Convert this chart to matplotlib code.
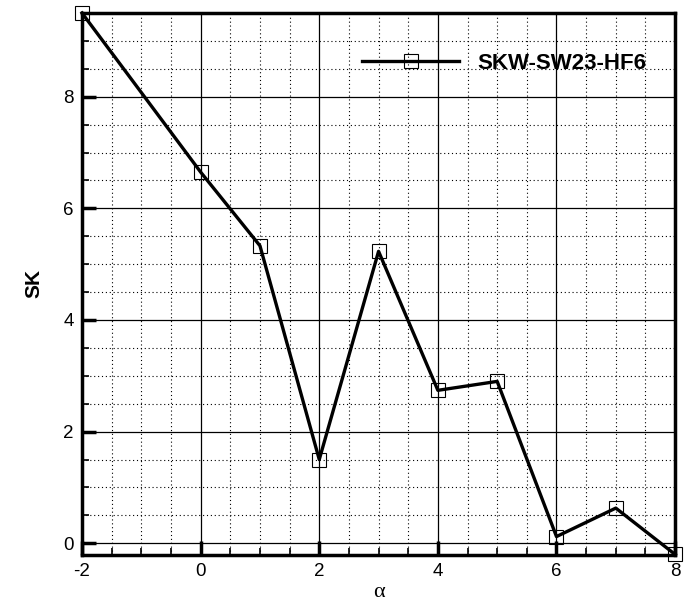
import matplotlib
matplotlib.use("Agg")
import matplotlib.pyplot as plt
from matplotlib.ticker import MultipleLocator

alpha = [-2, 0, 1, 2, 3, 4, 5, 6, 7, 8]
sk = [9.5, 6.65, 5.33, 1.5, 5.23, 2.74, 2.9, 0.12, 0.63, -0.2]
series_name = "SKW-SW23-HF6"

plt.rcParams["font.family"] = ["Liberation Sans", "DejaVu Sans"]
plt.rcParams["axes.unicode_minus"] = False

fig = plt.figure(figsize=(6.91, 6.08), dpi=100)
ax = fig.add_axes([0.1187, 0.0872, 0.8583, 0.8914])

ax.plot(alpha, sk, color="black", lw=2.4, marker="s", ms=10,
        mfc="none", mec="black", mew=0.8, clip_on=False, zorder=5,
        label=series_name)

ax.set_xlim(-2, 8)
ax.set_ylim(-0.21, 9.5)
ax.xaxis.set_major_locator(MultipleLocator(2))
ax.xaxis.set_minor_locator(MultipleLocator(0.5))
ax.yaxis.set_major_locator(MultipleLocator(2))
ax.yaxis.set_minor_locator(MultipleLocator(0.5))

ax.grid(which="major", color="black", lw=0.9, ls="-")
ax.grid(which="minor", color="black", lw=0.8, ls=(0, (1, 2.5)))
ax.set_axisbelow(True)

ax.tick_params(which="major", direction="in", length=10, width=2.5,
               labelsize=13.5, pad=6, top=False, right=False)
ax.tick_params(which="minor", direction="in", length=5, width=1.2,
               top=False, right=False)
for s in ax.spines.values():
    s.set_linewidth(2.5)

ax.set_xlabel("α", family=["Liberation Serif", "DejaVu Serif"], fontsize=16, labelpad=2)
ax.set_ylabel("SK", fontsize=15, fontweight="bold", labelpad=14)

leg = ax.legend(loc="upper right", bbox_to_anchor=(0.985, 0.963), frameon=False,
                prop={"weight": "bold", "size": 16}, handlelength=4.4,
                handletextpad=0.8)

fig.savefig("out.png", dpi=100)
